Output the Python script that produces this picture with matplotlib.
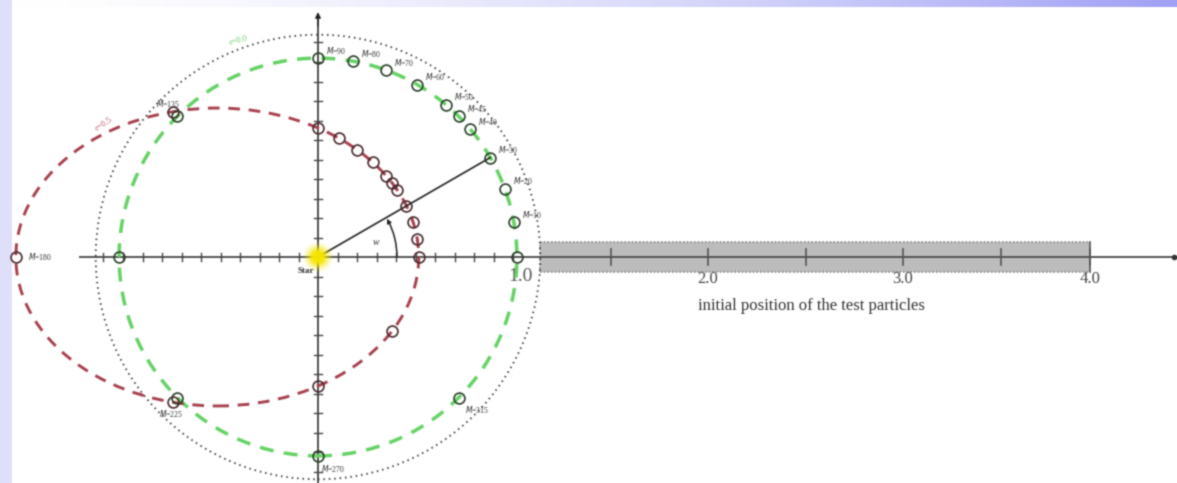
import numpy as np
import matplotlib
matplotlib.use("Agg")
import matplotlib.pyplot as plt
from matplotlib.patches import Ellipse, Circle, Arc, Rectangle

# === DATA ===
# orbital positions sampled at these angles (deg)
M_deg = [0, 10, 20, 30, 40, 45, 50, 60, 70, 80, 90, 135, 180, 225, 270, 315]
labelled_M = [10, 20, 30, 40, 45, 50, 60, 70, 80, 90, 135, 180, 225, 270, 315]

r_circ = 1.02           # e = 0.0 orbit
r_dotted = 1.14         # inner edge of the particle ring
ell_a, ell_b = 1.033, 0.764
ell_e = 0.5             # star sits at the focus, centre shifted by a*e

band_start, band_end = 1.14, 3.96
band_ticks = [1.5, 2.0, 2.5, 3.0, 3.5, 3.96]
band_labels = {2.0: "2.0", 3.0: "3.0", 3.96: "4.0"}
small_ticks = np.round(np.arange(-1.1, 1.01, 0.1), 2)
vert_ticks = np.round(np.arange(-1.1, 1.11, 0.1), 2)

# === FIGURE ===
W, H, px = 1177, 483, 195.0
x0, y0 = 318, 257
fig = plt.figure(figsize=(W / 100, H / 100), dpi=100)
fig.patch.set_facecolor("white")

# lavender slide frame: gradient strip at the top, plain strip on the left
bg = fig.add_axes([0, 0, 1, 1])
bg.set_axis_off()
bg.set_xlim(0, W)
bg.set_ylim(H, 0)
grad = np.linspace(0, 1, 400) ** 1.6
top = np.ones((1, 400, 3))
top[0, :, 0] = 1 - grad * (1 - 160 / 255)
top[0, :, 1] = 1 - grad * (1 - 160 / 255)
top[0, :, 2] = 1 - grad * (1 - 245 / 255)
bg.imshow(top, extent=[0, W, 7, 0], aspect="auto")
bg.add_patch(Rectangle((0, 0), 12, H, color=(0.88, 0.88, 0.98), lw=0))

ax = fig.add_axes([0, 0, 1, 1])
ax.set_axis_off()
ax.patch.set_alpha(0)
ax.set_xlim(-x0 / px, (W - x0) / px)
ax.set_ylim(-(H - y0) / px, y0 / px)

def polar_ellipse(theta):
    # distance from the focus to the flattened ellipse along theta
    c, s = np.cos(theta), np.sin(theta)
    cx = -ell_a * ell_e
    A = (c / ell_a) ** 2 + (s / ell_b) ** 2
    B = -2 * cx * c / ell_a ** 2
    C = (cx / ell_a) ** 2 - 1
    return (-B + np.sqrt(B * B - 4 * A * C)) / (2 * A)

th = np.radians(M_deg)
gx, gy = r_circ * np.cos(th), r_circ * np.sin(th)
re = polar_ellipse(th)
ex, ey = re * np.cos(th), re * np.sin(th)

# particle band on the right
ax.add_patch(Rectangle((band_start, -0.078), band_end - band_start, 0.156,
                       facecolor="#bcbcbc", edgecolor="none", zorder=1))
for yy in (-0.078, 0.078):
    ax.plot([band_start, band_end], [yy, yy], color="#8a8a8a", lw=1.2,
            ls=(0, (1, 1.2)), zorder=2)
ax.plot([band_start, band_start], [-0.078, 0.078], color="#8a8a8a", lw=1.2,
        ls=(0, (1, 1.2)), zorder=2)

# axes through the star
ax.plot([-1.22, 4.39], [0, 0], color="#555555", lw=1.4, zorder=3)
ax.plot(4.39, 0, "o", color="#333333", ms=3, zorder=3)
ax.plot([0, 0], [-1.25, 1.22], color="#333333", lw=1.2, zorder=3)
ax.annotate("", xy=(0, 1.27), xytext=(0, 1.17),
            arrowprops=dict(arrowstyle="-|>", color="#222222", lw=1,
                            mutation_scale=8), zorder=3)
for t in small_ticks:
    ax.plot([t, t], [-0.022, 0.022], color="#444444", lw=1, zorder=3)
for t in vert_ticks:
    if abs(t) > 1e-6:
        ax.plot([-0.022, 0.022], [t, t], color="#444444", lw=1, zorder=3)
for t in band_ticks:
    ax.plot([t, t], [-0.042, 0.042], color="#555555", lw=1.2, zorder=3)
ax.plot([band_end, band_end], [-0.078, 0.078], color="#555555", lw=1.2, zorder=3)

serif = "Liberation Serif"
ax.text(1.04, -0.1, "1.0", ha="center", va="center", fontsize=14,
        family=serif, color="#555555")
for v, s in band_labels.items():
    ax.text(v, -0.115, s, ha="center", va="center", fontsize=12,
            family=serif, color="#444444")
ax.text(2.53, -0.25, "initial position of the test particles", ha="center",
        va="center", fontsize=12, family=serif, color="#333333")

# orbits
ax.add_patch(Circle((0, 0), r_dotted, fill=False, color="#333333", lw=1.3,
                    ls=(0, (0.8, 2.2)), zorder=2))
ax.add_patch(Circle((0, 0), r_circ, fill=False, color="#66d266", lw=2.5,
                    ls=(0, (4, 3)), zorder=4))
ax.add_patch(Ellipse((-ell_a * ell_e, 0), 2 * ell_a, 2 * ell_b, fill=False,
                     color="#a8414f", lw=2.1, ls=(0, (4, 3)), zorder=4))
ax.text(-0.41, 1.11, "e=0.0", color="#6fcf6f", fontsize=6, family=serif,
        rotation=15, ha="center", va="center")
ax.text(-1.1, 0.68, "e=0.5", color="#c06070", fontsize=6, family=serif,
        rotation=32, ha="center", va="center")

# radius to M=30 and the angle arc
i30 = M_deg.index(30)
ax.plot([0, gx[i30]], [0, gy[i30]], color="#222222", lw=1.2, zorder=5)
ax.add_patch(Arc((0, 0), 0.81, 0.81, theta1=0, theta2=27, color="#222222",
                 lw=1.1, zorder=5))
ax.annotate("", xy=(0.405 * np.cos(np.radians(31)), 0.405 * np.sin(np.radians(31))),
            xytext=(0.405 * np.cos(np.radians(24)), 0.405 * np.sin(np.radians(24))),
            arrowprops=dict(arrowstyle="-|>", color="#222222", lw=0.8,
                            mutation_scale=7), zorder=5)
ax.text(0.3, 0.075, "w", fontsize=7, style="italic", family=serif,
        color="#333333", ha="center", va="center")

# test particles
ax.plot(ex, ey, "o", mfc="none", mec="#4a2a2e", mew=1.2, ms=7.8, zorder=6)
ax.plot(gx, gy, "o", mfc="none", mec="#2a3f2a", mew=1.2, ms=7.8, zorder=6)

offsets = {135: (-9, 13, "center"), 180: (12, 0, "left"),
           225: (-6, -16, "center"), 270: (3, -13, "left"),
           315: (6, -12, "left")}
for m in labelled_M:
    i = M_deg.index(m)
    px_, py_ = (ex[i], ey[i]) if m == 180 else (gx[i], gy[i])
    dx, dy, ha = offsets.get(m, (8, 8, "left"))
    ax.annotate(f"$M$={m}", (px_, py_), xytext=(dx, dy),
                textcoords="offset pixels", fontsize=5.5, family=serif,
                ha=ha, va="center", color="#333333", zorder=7)

# the star, drawn as a soft yellow glow
for r, a in [(0.075, 0.15), (0.06, 0.3), (0.045, 0.6), (0.032, 0.9)]:
    ax.add_patch(Circle((0, 0), r, color="#f6e600", alpha=a, lw=0, zorder=8))
ax.text(-0.06, -0.05, "Star", fontsize=6.5, family=serif, weight="bold",
        color="#333333", ha="center", va="top", zorder=9)

# soften the rendered image slightly before saving
fig.canvas.draw()
img = np.asarray(fig.canvas.buffer_rgba())[..., :3].astype(float) / 255
img = np.pad(img, ((1, 1), (1, 1), (0, 0)), mode="edge")
k = (0.2, 0.6, 0.2)
img = k[0] * img[:-2] + k[1] * img[1:-1] + k[2] * img[2:]
img = k[0] * img[:, :-2] + k[1] * img[:, 1:-1] + k[2] * img[:, 2:]
plt.imsave("out.png", np.clip(img, 0, 1))
